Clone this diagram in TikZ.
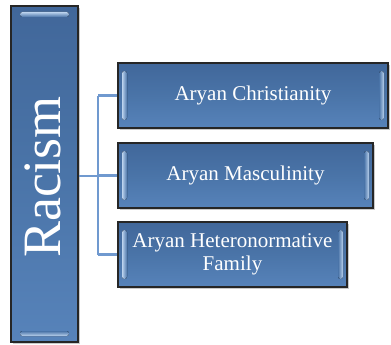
\documentclass[tikz,border=0pt]{standalone}
\usepackage{fontspec}
\setmainfont{Liberation Serif}
\usetikzlibrary{shadows}
\definecolor{boxblue}{HTML}{4A74A8}
\definecolor{boxtop}{HTML}{41679A}
\definecolor{boxbot}{HTML}{5783BA}
\definecolor{linkblue}{HTML}{7099CF}
\definecolor{bevel}{HTML}{BCD3EE}
\tikzset{
  box/.style={draw=black!85, line width=1.5pt, top color=boxtop, bottom color=boxbot, middle color=boxblue, inner sep=0pt,
    drop shadow={shadow xshift=1.5pt, shadow yshift=-2pt, fill=black!35, opacity=0.6}},
  link/.style={draw=linkblue, line width=2.6pt},
  lab/.style={text=white, font=\fontsize{21}{23}\selectfont, align=center},
  bevl/.style={left color=bevel, right color=boxblue, rounded corners=2.5pt},
  bevr/.style={left color=boxblue, right color=bevel, rounded corners=2.5pt},
  bevt/.style={top color=bevel, bottom color=boxblue, rounded corners=2.5pt},
  bevb/.style={top color=boxblue, bottom color=bevel, rounded corners=2.5pt}
}
\begin{document}
\begin{tikzpicture}[x=1pt,y=-1pt]
\useasboundingbox (0,0) rectangle (391,345);
% boxes
\node[box, minimum width=67pt, minimum height=336pt] (racism) at (44.5,174) {};
\node[box, minimum width=270pt, minimum height=65pt] (b1) at (253,95.5) {};
\node[box, minimum width=255pt, minimum height=65pt] (b2) at (245.5,175.5) {};
\node[box, minimum width=229pt, minimum height=65pt] (b3) at (232.5,254.5) {};
% bevels
\fill[bevt] (20,12) rectangle (69,17);
\fill[bevb] (20,331) rectangle (69,336);
\fill[bevl] (122,71) rectangle (127,120);
\fill[bevr] (379,71) rectangle (384,120);
\fill[bevl] (122,151) rectangle (127,200);
\fill[bevr] (364,151) rectangle (369,200);
\fill[bevl] (122,230) rectangle (127,279);
\fill[bevr] (338,230) rectangle (343,279);
% texts
\node[text=white, rotate=90, font=\fontsize{54}{60}\selectfont] (rt) at (43,177) {Racism};
\node[lab] (t1) at (b1.center) {Aryan Christianity};
\node[lab] (t2) at (b2.center) {Aryan Masculinity};
\node[lab] (t3) at (b3.center) {Aryan Heteronormative\\Family};
% connectors
\coordinate (j) at (98,176);
\draw[link] (racism.east |- j) -- (j);
\draw[link] (j |- b1.west) -- (j |- b3.west);
\draw[link] (j |- b1.west) -- (b1.west);
\draw[link] (j |- b2.west) -- (b2.west);
\draw[link] (j |- b3.west) -- (b3.west);
\end{tikzpicture}
\end{document}
